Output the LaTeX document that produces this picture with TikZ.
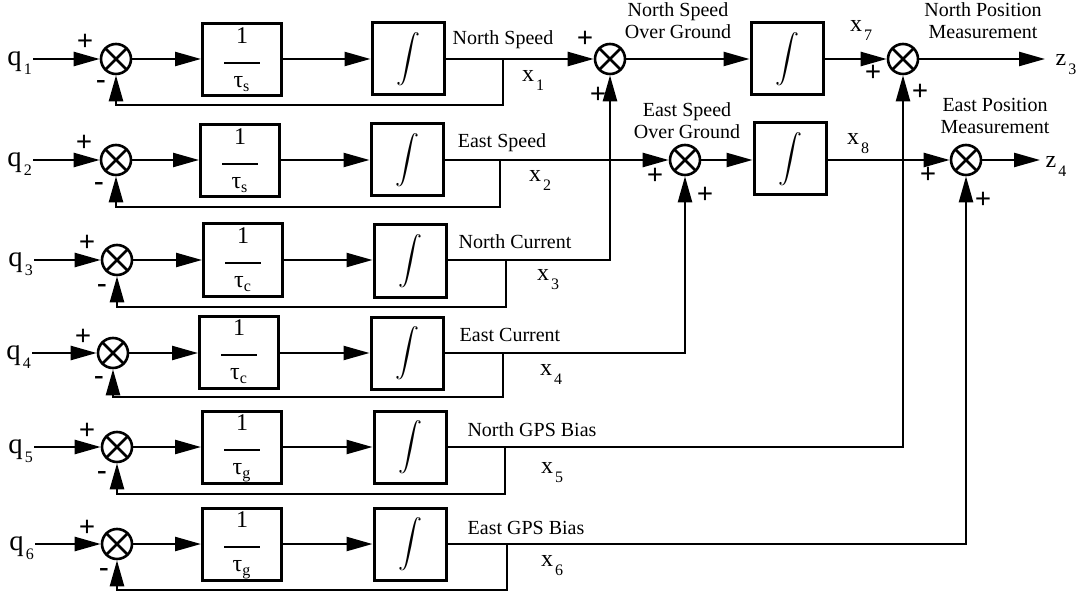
\documentclass[tikz,border=0pt]{standalone}
\usepackage{amsmath}
\usepackage{fontspec}
\setmainfont{Liberation Serif}
\usetikzlibrary{arrows.meta, positioning, calc}

\newcommand{\gainfrac}[1]{%
  {\large\begin{tabular}{@{}c@{}}1\\[-4pt]\rule{18pt}{1pt}\\[-2pt]τ\textsubscript{#1}\end{tabular}}}
\newcommand{\subvar}[2]{#1\kern1pt\raisebox{-4.5pt}{\footnotesize #2}}
\newcommand{\integral}{{\large$\displaystyle\int$}}

\begin{document}
\begin{tikzpicture}[
  x=0.5pt, y=-0.5pt,
  line width=1.2pt,
  sumnode/.style={
    circle,
    draw,
    line width=1.3pt,
    minimum size=15pt,
    inner sep=0pt,
    path picture={
      \draw[line width=1.3pt]
        (path picture bounding box.north west) -- (path picture bounding box.south east)
        (path picture bounding box.north east) -- (path picture bounding box.south west);
    },
  },
  gainbox/.style={
    draw,
    line width=1.5pt,
    minimum width=39.5pt,
    minimum height=32pt,
    inner sep=0pt,
  },
  intbox/.style={
    draw,
    line width=1.5pt,
    minimum width=36pt,
    minimum height=36pt,
    inner sep=0pt,
  },
  signal/.style={-{Triangle[length=13pt, width=7pt]}},
  sgn/.style={font=\Large\bfseries, inner sep=0pt},
  varlabel/.style={font=\large, inner sep=0pt},
  textlabel/.style={align=center, inner sep=0pt},
]
  \useasboundingbox (0,0) rectangle (1079,598);

  % row 1
  \node[varlabel, anchor=east, font=\Large] (q1) at (33,63) {\subvar{q}{1}};
  \node[sumnode] (s1) at (116,59) {};
  \node[gainbox] (g1) at (242,60) {\gainfrac{s}};
  \node[intbox] (n1) at (408,59) {\integral};
  \coordinate (b1) at (503,59);
  \coordinate (f1) at (503,105);
  \node[sgn] at (85,42) {+};
  \node[sgn] at (101,85) {-};
  \draw[signal] (q1.east |- s1) -- (s1);
  \draw[signal] (s1) -- (g1.west |- s1);
  \draw[signal] (g1.east |- s1) -- (n1);
  \draw[signal] (b1) -- (f1) -| (s1.south);

  % row 2
  \node[varlabel, anchor=east, font=\Large] (q2) at (33,164) {\subvar{q}{2}};
  \node[sumnode] (s2) at (116,160) {};
  \node[gainbox] (g2) at (240,161) {\gainfrac{s}};
  \node[intbox] (n2) at (407,160) {\integral};
  \coordinate (b2) at (500,160);
  \coordinate (f2) at (500,207);
  \node[sgn] at (84,143) {+};
  \node[sgn] at (99,187) {-};
  \draw[signal] (q2.east |- s2) -- (s2);
  \draw[signal] (s2) -- (g2.west |- s2);
  \draw[signal] (g2.east |- s2) -- (n2);
  \draw[signal] (b2) -- (f2) -| (s2.south);

  % row 3
  \node[varlabel, anchor=east, font=\Large] (q3) at (34,264) {\subvar{q}{3}};
  \node[sumnode] (s3) at (117,260) {};
  \node[gainbox] (g3) at (243,260) {\gainfrac{c}};
  \node[intbox] (n3) at (410,261) {\integral};
  \coordinate (b3) at (506,260);
  \coordinate (f3) at (506,307);
  \node[sgn] at (87,243) {+};
  \node[sgn] at (102,288) {-};
  \draw[signal] (q3.east |- s3) -- (s3);
  \draw[signal] (s3) -- (g3.west |- s3);
  \draw[signal] (g3.east |- s3) -- (n3.west |- s3);
  \draw[signal] (b3) -- (f3) -| (s3.south);

  % row 4
  \node[varlabel, anchor=east, font=\Large] (q4) at (32,357) {\subvar{q}{4}};
  \node[sumnode] (s4) at (113,353) {};
  \node[gainbox] (g4) at (239,352) {\gainfrac{c}};
  \node[intbox] (n4) at (407,353) {\integral};
  \coordinate (b4) at (503,353);
  \coordinate (f4) at (503,397);
  \node[sgn] at (83,337) {+};
  \node[sgn] at (99,380) {-};
  \draw[signal] (q4.east |- s4) -- (s4);
  \draw[signal] (s4) -- (g4.west |- s4);
  \draw[signal] (g4.east |- s4) -- (n4);
  \draw[signal] (b4) -- (f4) -| (s4.south);

  % row 5
  \node[varlabel, anchor=east, font=\Large] (q5) at (34,451) {\subvar{q}{5}};
  \node[sumnode] (s5) at (117,447) {};
  \node[gainbox] (g5) at (242,447) {\gainfrac{g}};
  \node[intbox] (n5) at (410,447) {\integral};
  \coordinate (b5) at (505,447);
  \coordinate (f5) at (505,494);
  \node[sgn] at (87,431) {+};
  \node[sgn] at (102,475) {-};
  \draw[signal] (q5.east |- s5) -- (s5);
  \draw[signal] (s5) -- (g5.west |- s5);
  \draw[signal] (g5.east |- s5) -- (n5);
  \draw[signal] (b5) -- (f5) -| (s5.south);

  % row 6
  \node[varlabel, anchor=east, font=\Large] (q6) at (35,548) {\subvar{q}{6}};
  \node[sumnode] (s6) at (117,544) {};
  \node[gainbox] (g6) at (242,544) {\gainfrac{g}};
  \node[intbox] (n6) at (410,544) {\integral};
  \coordinate (b6) at (507,544);
  \coordinate (f6) at (507,590);
  \node[sgn] at (87,528) {+};
  \node[sgn] at (104,572) {-};
  \draw[signal] (q6.east |- s6) -- (s6);
  \draw[signal] (s6) -- (g6.west |- s6);
  \draw[signal] (g6.east |- s6) -- (n6);
  \draw[signal] (b6) -- (f6) -| (s6.south);

  % state labels
  \node[textlabel] (lns) at (503,40) {North Speed};
  \node[varlabel] (lx1) at (533,80) {\subvar{x}{1}};
  \node[textlabel] (les) at (502,143) {East Speed};
  \node[varlabel] (lx2) at (540,180) {\subvar{x}{2}};
  \node[textlabel] (lnc) at (515,242) {North Current};
  \node[varlabel] (lx3) at (548,280) {\subvar{x}{3}};
  \node[textlabel] (lec) at (510,335) {East Current};
  \node[varlabel] (lx4) at (551,374) {\subvar{x}{4}};
  \node[textlabel] (lng) at (532,430) {North GPS Bias};
  \node[varlabel] (lx5) at (552,473) {\subvar{x}{5}};
  \node[textlabel] (leg) at (526,528) {East GPS Bias};
  \node[varlabel] (lx6) at (552,566) {\subvar{x}{6}};

  % ground speed and position
  \node[sumnode] (nsog) at (610,59) {};
  \node[sumnode] (esog) at (685,160) {};
  \node[intbox] (n7) at (787,59) {\integral};
  \node[intbox] (n8) at (790,159) {\integral};
  \node[sumnode] (npm) at (903,59) {};
  \node[sumnode] (epm) at (966,160) {};
  \coordinate (z3end) at (1045,59);
  \coordinate (z4end) at (1040,160);
  \node[varlabel] (z3) at (1066,65) {\subvar{z}{3}};
  \node[varlabel] (z4) at (1056,166) {\subvar{z}{4}};

  \node[textlabel] (lnsog) at (678,21) {North Speed\\[-1pt]Over Ground};
  \node[textlabel] (lesog) at (687,121) {East Speed\\[-1pt]Over Ground};
  \node[textlabel] (lnpm) at (983,21) {North Position\\[-1pt]Measurement};
  \node[textlabel] (lepm) at (995,116) {East Position\\[-1pt]Measurement};
  \node[varlabel] (lx7) at (861,30) {\subvar{x}{7}};
  \node[varlabel] (lx8) at (858,144) {\subvar{x}{8}};

  \node[sgn] at (585,39) {+};
  \node[sgn] at (598,95) {+};
  \node[sgn] at (655,176) {+};
  \node[sgn] at (705,195) {+};
  \node[sgn] at (873,73) {+};
  \node[sgn] at (920,92) {+};
  \node[sgn] at (928,175) {+};
  \node[sgn] at (983,200) {+};

  \draw[signal] (n1) -- (nsog);
  \draw[signal] (n2) -- (esog);
  \draw[signal] (n3.east |- s3) -| (nsog.south);
  \draw[signal] (n4) -| (esog.south);
  \draw[signal] (n5) -| (npm.south);
  \draw[signal] (n6) -| (epm.south);
  \draw[signal] (nsog) -- (n7);
  \draw[signal] (n7) -- (npm);
  \draw[signal] (npm) -- (z3end);
  \draw[signal] (esog) -- (n8.west |- esog);
  \draw[signal] (n8.east |- epm) -- (epm);
  \draw[signal] (epm) -- (z4end);
\end{tikzpicture}
\end{document}
